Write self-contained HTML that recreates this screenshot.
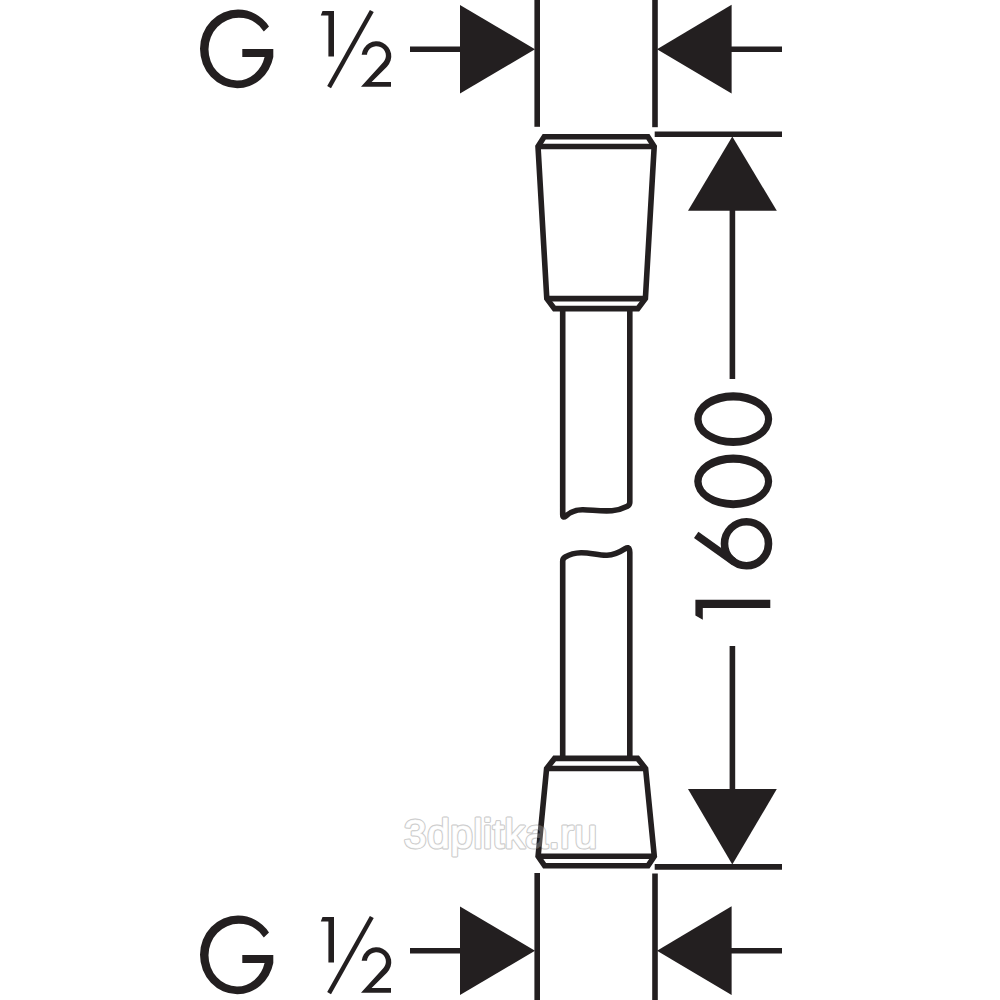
<!DOCTYPE html>
<html><head><meta charset="utf-8"><title>Hose dimension drawing</title>
<style>
html,body{margin:0;padding:0;background:#fff;}
body{width:1000px;height:1000px;overflow:hidden;font-family:"Liberation Sans",sans-serif;}
svg{display:block}
</style></head><body>
<svg width="1000" height="1000" viewBox="0 0 1000 1000">
<rect width="1000" height="1000" fill="#ffffff"/>
<!-- top label G 1/2 -->
<g>
<path d="M269,26.4 A37.75,39.35 0 0 0 238,9.5 A38,39.35 0 0 0 200,48.85 A37.3,39.35 0 0 0 237.3,88.2 A36.8,39.35 0 0 0 273.3,57 V49 H242.3 V57 H264.6 A28.5,31.35 0 0 1 237,80.5 A28.5,31.35 0 0 1 208.5,49.15 A30.3,31.35 0 0 1 238.8,17.8 A30.2,31.35 0 0 1 263.8,31.6 Z" fill="#231f20"/>
<path d="M322.5,11 H334 V56.6 H328.4 V15.6 H320.8 Z" fill="#231f20"/>
<path d="M371.8,11 L329.1,87.2" stroke="#231f20" stroke-width="4.4" fill="none"/>
<path d="M361.66,54.8 A14.85,14.85 0 1 1 386.95,66.65 L371.6,82 H391 V86.8 H361 L383.46,61.93 A9.45,9.45 0 1 0 367.03,54.8 Z" fill="#231f20"/>
</g>
<g transform="translate(0,906)">
<path d="M269,26.4 A37.75,39.35 0 0 0 238,9.5 A38,39.35 0 0 0 200,48.85 A37.3,39.35 0 0 0 237.3,88.2 A36.8,39.35 0 0 0 273.3,57 V49 H242.3 V57 H264.6 A28.5,31.35 0 0 1 237,80.5 A28.5,31.35 0 0 1 208.5,49.15 A30.3,31.35 0 0 1 238.8,17.8 A30.2,31.35 0 0 1 263.8,31.6 Z" fill="#231f20"/>
<path d="M322.5,11 H334 V56.6 H328.4 V15.6 H320.8 Z" fill="#231f20"/>
<path d="M371.8,11 L329.1,87.2" stroke="#231f20" stroke-width="4.4" fill="none"/>
<path d="M361.66,54.8 A14.85,14.85 0 1 1 386.95,66.65 L371.6,82 H391 V86.8 H361 L383.46,61.93 A9.45,9.45 0 1 0 367.03,54.8 Z" fill="#231f20"/>
</g>
<g>
<path d="M410,49.2 H461" stroke="#231f20" stroke-width="5.6" fill="none"/>
<path d="M460,5 V93.6 L535,49.3 Z" fill="#231f20"/>
<path d="M782,49.2 H731" stroke="#231f20" stroke-width="5.6" fill="none"/>
<path d="M731.6,4.8 V93.6 L657,49.2 Z" fill="#231f20"/>
</g>
<g transform="translate(0,901.5)">
<path d="M410,49.2 H461" stroke="#231f20" stroke-width="5.6" fill="none"/>
<path d="M460,5 V93.6 L535,49.3 Z" fill="#231f20"/>
<path d="M782,49.2 H731" stroke="#231f20" stroke-width="5.6" fill="none"/>
<path d="M731.6,4.8 V93.6 L657,49.2 Z" fill="#231f20"/>
</g>
<!-- extension lines -->
<g stroke="#231f20" stroke-width="5.6" fill="none">
<path d="M537.2,0 V126.8"/>
<path d="M655,0 V127.2"/>
<path d="M537.2,873 V1000"/>
<path d="M655,873.5 V1000"/>
<path d="M654.7,134.2 H782"/>
<path d="M654.7,866.9 H782"/>
<!-- dimension line -->
<path d="M732.4,210 V379"/>
<path d="M732.4,646 V790"/>
</g>
<path d="M732.3,136.5 L688,210.8 H776.8 Z" fill="#231f20"/>
<path d="M732.3,864.6 L688,789.1 H776.8 Z" fill="#231f20"/>
<!-- watermark base -->
<g font-family="Liberation Sans, sans-serif" font-size="40.5">
<text x="404" y="848" textLength="193" lengthAdjust="spacing" fill="none" stroke="#c6c6c6" stroke-width="3.1" stroke-linejoin="round">3dplitka.ru</text>
<text x="404" y="848" textLength="193" lengthAdjust="spacing" fill="#ffffff" stroke="#ffffff" stroke-width="0.7">3dplitka.ru</text>
</g>
<!-- upper connector -->
<g stroke="#231f20" stroke-width="5.6" fill="none" stroke-linejoin="miter">
<path d="M544.2,136.8 H647.9 L654.2,146.5 L645.4,298.6 L637.8,308.6 H554.4 L546.8,298.6 L538,146.5 Z"/>
<path d="M538,146.5 H654.2"/>
<path d="M546.8,298.6 H645.4"/>
<!-- hose upper -->
<path d="M562.7,310 V514.6 Q562.7,518.6 565.8,516 C570.5,511.9 575,509.6 583,509.8 C592,510 602,511.4 612,510.7 C619,510.1 623,508.4 627.4,506.2 Q629.8,505 629.8,502.3 V310" stroke-linejoin="round"/>
<!-- hose lower -->
<path d="M562.7,758 V561.2 Q562.7,558.4 565.2,557 C569,554.8 574,553 581,552.8 C590,552.6 599,555.6 607,555.3 C614,555 619,552.6 625.2,548.6 Q628.8,546.3 629.5,549.8 L629.8,552.5 V758" stroke-linejoin="round"/>
<!-- lower connector -->
<path d="M554.6,758.4 H637.6 L645.6,768.5 L654.3,856.2 L648,865.8 H544.6 L538.1,856.2 L546.6,768.5 Z"/>
<path d="M546.6,768.5 H645.6"/>
<path d="M538.1,856.2 H654.3"/>
</g>
<!-- 1600 rotated text -->
<g fill="none" stroke="#231f20">
<path fill-rule="evenodd" fill="#231f20" stroke="none" d="M694.2,419.1 a39,26.85 0 1 0 78,0 a39,26.85 0 1 0 -78,0 Z M701.6,419.3 a31.7,18.8 0 1 1 63.4,0 a31.7,18.8 0 1 1 -63.4,0 Z"/>
<path fill-rule="evenodd" fill="#231f20" stroke="none" d="M694.2,481.3 a39,26.85 0 1 0 78,0 a39,26.85 0 1 0 -78,0 Z M701.6,481.5 a31.7,18.8 0 1 1 63.4,0 a31.7,18.8 0 1 1 -63.4,0 Z"/>
<circle cx="746.5" cy="543.7" r="22" stroke-width="7.6"/>
<path d="M696.2,534.8 L733.7,561.6" stroke-width="7.6"/>
</g>
<path d="M695.4,599.8 H770.3 V607.9 H702.8 V619.8 L695.4,615.6 Z" fill="#231f20"/>
<!-- watermark overlay -->
<g font-family="Liberation Sans, sans-serif" font-size="40.5">
<text x="404" y="848" textLength="193" lengthAdjust="spacing" fill="#ffffff" stroke="#ffffff" stroke-width="2.2" stroke-linejoin="round" opacity="0.22">3dplitka.ru</text>
</g>

</svg>
</body></html>
